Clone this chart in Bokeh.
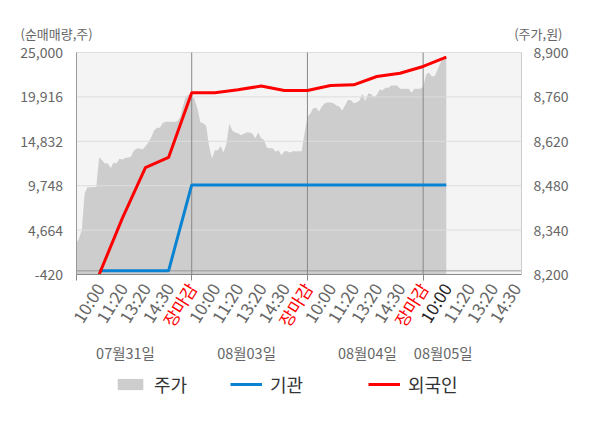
import numpy as np
from bokeh.plotting import figure
from bokeh.models import (Range1d, LinearAxis, FixedTicker, NumeralTickFormatter,
                          Legend, LegendItem, BoxAnnotation)
from bokeh.embed import file_html
from bokeh.resources import INLINE
from bokeh.core.properties import value

# ---------------- data ----------------
day_labels = ["07월31일", "08월03일", "08월04일", "08월05일"]
time_labels = ["10:00", "11:20", "13:20", "14:30", "장마감"]
last_day_labels = ["10:00", "11:20", "13:20", "14:30"]

left_ticks = [-420, 4664, 9748, 14832, 19916, 25000]
right_ticks = [8200, 8340, 8480, 8620, 8760, 8900]

# stock price (주가), sampled evenly through each trading day
price_day1 = [8298, 8312, 8341, 8456, 8476, 8474, 8476, 8476, 8570, 8560,
              8550, 8550, 8536, 8553, 8550, 8565, 8563, 8567, 8569, 8571,
              8591, 8597, 8597, 8594, 8604, 8616, 8633, 8654, 8663, 8663,
              8678, 8682, 8682, 8682, 8682, 8683, 8695, 8732, 8762, 8767]
price_day2 = [8767, 8752, 8723, 8680, 8677, 8669, 8605, 8566, 8592, 8592,
              8605, 8585, 8613, 8676, 8654, 8648, 8645, 8639, 8644, 8648,
              8648, 8644, 8630, 8648, 8630, 8624, 8600, 8598, 8598, 8587,
              8592, 8576, 8589, 8589, 8585, 8589, 8589, 8589, 8589, 8645]
price_day3 = [8697, 8707, 8724, 8726, 8714, 8730, 8740, 8742, 8742, 8740,
              8733, 8730, 8717, 8733, 8750, 8750, 8740, 8742, 8749, 8770,
              8747, 8771, 8769, 8759, 8766, 8783, 8781, 8789, 8789, 8796,
              8796, 8796, 8786, 8786, 8786, 8786, 8773, 8786, 8786, 8786]
price_day4 = [8791, 8831, 8837, 8824, 8826, 8846, 8868, 8884, 8884]

# cumulative net buying (순매매량) at each label time
inst_net = [0, 0, 0, 0, 9830, 9830, 9830, 9830, 9830, 9830,
            9830, 9830, 9830, 9830, 9830, 9830]
foreign_net = [-420, 6000, 11830, 12980, 20400, 20400, 20730, 21160, 20650, 20650,
               21220, 21300, 22250, 22630, 23400, 24460]

# ---------------- layout ----------------
W, H = 600, 428
FL, FR, FT, FB = 75.5, 521.0, 52.0, 274.0     # plotting area in page pixels
SLOTS = 5
SAMPLES = 40
X_END = 19.25
Y0, Y1 = left_ticks[0], left_ticks[-1]
P0, P1 = right_ticks[0], right_ticks[-1]
px_x = X_END / (FR - FL)
px_y = (Y1 - Y0) / (FB - FT)
px_p = (P1 - P0) / (FB - FT)

FONT = "Noto Sans CJK KR"
GRAY_TXT = "#666666"

ndays = 4
price_days = [price_day1, price_day2, price_day3, price_day4]
px, py = [], []
for d, vals in enumerate(price_days):
    px.extend(SLOTS * d + SLOTS * np.arange(len(vals)) / SAMPLES)
    py.extend(vals)
inv_x = list(range(1, len(foreign_net) + 1))

p = figure(width=W, height=H,
           x_range=Range1d(-FL * px_x, X_END + (W - FR) * px_x),
           y_range=Range1d(Y0 - (H - FB) * px_y, Y1 + FT * px_y),
           output_backend="svg", toolbar_location=None, min_border=0,
           background_fill_color="white", border_fill_color="white", outline_line_color=None)
p.extra_y_ranges = {"price": Range1d(P0 - (H - FB) * px_p, P1 + FT * px_p)}
p.xgrid.visible = False
p.ygrid.visible = False

p.add_layout(BoxAnnotation(left=0, right=X_END, bottom=Y0, top=Y1, fill_color="#f4f4f4",
                           fill_alpha=1, line_color=None, level="underlay"))

area = p.varea(x=px, y1=P0, y2=py, y_range_name="price", fill_color="#cdcdcd")
gt = left_ticks[1:]
p.segment(x0=[0] * len(gt), x1=[X_END] * len(gt), y0=gt, y1=gt, line_color="#dddddd", line_width=1)
p.segment(x0=[0], x1=[X_END], y0=[0], y1=[0], line_color="#999999", line_width=1)
db = [SLOTS * d for d in range(1, ndays)]
p.segment(x0=db, x1=db, y0=[Y0] * len(db), y1=[Y1] * len(db), line_color="#888888", line_width=1)

r_inst = p.line(inv_x, inst_net, line_color="#0b83d3", line_width=3)
r_for = p.line(inv_x, foreign_net, line_color="#ff0000", line_width=3)

# ---- y axes ----
ya = p.yaxis[0]
ya.fixed_location = 0
ya.bounds = (Y0, Y1)
ya.ticker = FixedTicker(ticks=left_ticks)
ya.formatter = NumeralTickFormatter(format="0,0")
ya.major_tick_line_color = None
ya.minor_tick_line_color = None
ya.axis_line_color = "#999999"
ya.major_label_text_color = GRAY_TXT
ya.major_label_text_font = FONT
ya.major_label_text_font_size = "14px"
ya.major_label_standoff = 7

ra = LinearAxis(y_range_name="price", ticker=FixedTicker(ticks=right_ticks),
                formatter=NumeralTickFormatter(format="0,0"), fixed_location=X_END,
                bounds=(P0, P1))
ra.major_tick_line_color = None
ra.minor_tick_line_color = None
ra.axis_line_color = "#cccccc"
ra.major_label_text_color = GRAY_TXT
ra.major_label_text_font = FONT
ra.major_label_text_font_size = "14px"
ra.major_label_standoff = 6
p.add_layout(ra, "right")

# ---- x axis: line + day ticks ----
xa = p.xaxis[0]
xa.fixed_location = Y0
xa.bounds = (0, X_END)
xa.ticker = FixedTicker(ticks=[SLOTS * d for d in range(ndays)])
xa.major_label_text_color = None
xa.axis_line_color = "#888888"
xa.major_tick_line_color = "#888888"
xa.major_tick_in = 0
xa.major_tick_out = 6
xa.minor_tick_line_color = None

# ---- x axis labels, one axis per label colour ----
groups = {GRAY_TXT: {}, "#ff0000": {}, "#222222": {}}
for d in range(ndays):
    labs = time_labels if d < ndays - 1 else last_day_labels
    for i, t in enumerate(labs):
        slot = SLOTS * d + i + 1
        if t == "장마감":
            groups["#ff0000"][slot] = t
        elif d == ndays - 1 and i == 0:
            groups["#222222"][slot] = t
        else:
            groups[GRAY_TXT][slot] = t
for col, lab in groups.items():
    ax = LinearAxis(ticker=FixedTicker(ticks=list(lab.keys())), major_label_overrides=lab,
                    fixed_location=Y0)
    ax.axis_line_color = None
    ax.major_tick_line_color = None
    ax.minor_tick_line_color = None
    ax.major_tick_out = 0
    ax.major_label_standoff = 10
    ax.major_label_orientation = np.deg2rad(58)
    ax.major_label_text_color = col
    ax.major_label_text_font = FONT
    ax.major_label_text_font_size = "17px"
    p.add_layout(ax, "below")

# ---- day labels ----
day_x = [2.14, 7.37, 12.59, 15.87]
p.text(x=day_x, y=[Y0 - 78 * px_y] * ndays, text=day_labels, text_color=GRAY_TXT,
       text_align="center", text_baseline="middle", text_font=value(FONT), text_font_size="14.5px")

# ---- axis titles ----
p.text(x=[(20 - FL) * px_x], y=[Y1 + 19 * px_y], text=["(순매매량,주)"], text_color=GRAY_TXT,
       text_align="left", text_baseline="middle", text_font=value(FONT), text_font_size="13px")
p.text(x=[X_END + (562 - FR) * px_x], y=[Y1 + 19 * px_y], text=["(주가,원)"], text_color=GRAY_TXT,
       text_align="right", text_baseline="middle", text_font=value(FONT), text_font_size="13px")

# ---- legends ----
for rend, lab, lx in [(area, "주가", 114), (r_inst, "기관", 230), (r_for, "외국인", 368)]:
    lg = Legend(items=[LegendItem(label=lab, renderers=[rend])], location=(lx, 31),
                orientation="horizontal", label_text_font=FONT, label_text_font_size="18px",
                label_text_color="#333333", glyph_width=32, glyph_height=14, label_height=20,
                label_standoff=8, padding=0, margin=0, spacing=0,
                border_line_color=None, background_fill_alpha=0)
    p.add_layout(lg, "center")

open("out.html", "w").write(file_html(p, INLINE))
